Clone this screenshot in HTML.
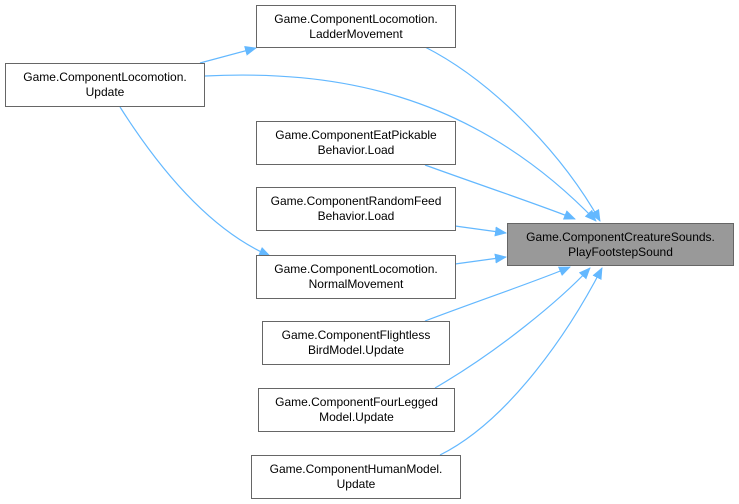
<!DOCTYPE html><html><head><style>
body{margin:0;background:#fff;width:739px;height:504px;overflow:hidden;position:relative;font-family:"Liberation Sans",sans-serif}
.n{position:absolute;box-sizing:border-box;border:1px solid #666;background:#fff;font-size:12px;line-height:15px;text-align:center;display:flex;align-items:center;justify-content:center;color:#000}
svg{position:absolute;left:0;top:0}
</style></head><body>
<svg width="739" height="504"><defs><marker id="a" markerWidth="12" markerHeight="10" refX="11" refY="5" orient="auto" markerUnits="userSpaceOnUse"><path d="M0,0L12,5L0,10z" fill="#63b8ff"/></marker></defs>
<g fill="none" stroke="#63b8ff" stroke-width="1.2" marker-end="url(#a)">
<path d="M425,47C490,80 560,150 600,221"/>
<path d="M205,76C330,70 470,90 596,221"/>
<path d="M425,165C480,185 540,205 575,219"/>
<path d="M455,226L506,233"/>
<path d="M455,264L506,257"/>
<path d="M425,321C480,300 540,280 570,267"/>
<path d="M435,388C500,350 560,300 590,268"/>
<path d="M440,455C510,420 570,330 602,268"/>
<path d="M200,63L256,48"/>
<path d="M120,107C160,170 210,230 270,256"/>
</g></svg>
<div class="n" style="left:256px;top:5px;width:200px;height:43px">Game.ComponentLocomotion.<br>LadderMovement</div>
<div class="n" style="left:5px;top:63px;width:200px;height:44px">Game.ComponentLocomotion.<br>Update</div>
<div class="n" style="left:256px;top:121px;width:200px;height:44px">Game.ComponentEatPickable<br>Behavior.Load</div>
<div class="n" style="left:256px;top:187px;width:200px;height:44px">Game.ComponentRandomFeed<br>Behavior.Load</div>
<div class="n" style="left:256px;top:255px;width:200px;height:44px">Game.ComponentLocomotion.<br>NormalMovement</div>
<div class="n" style="left:262px;top:321px;width:188px;height:44px">Game.ComponentFlightless<br>BirdModel.Update</div>
<div class="n" style="left:258px;top:388px;width:197px;height:44px">Game.ComponentFourLegged<br>Model.Update</div>
<div class="n" style="left:251px;top:455px;width:210px;height:44px">Game.ComponentHumanModel.<br>Update</div>
<div class="n" style="left:507px;top:223px;width:227px;height:43px;background:#999">Game.ComponentCreatureSounds.<br>PlayFootstepSound</div>
</body></html>
